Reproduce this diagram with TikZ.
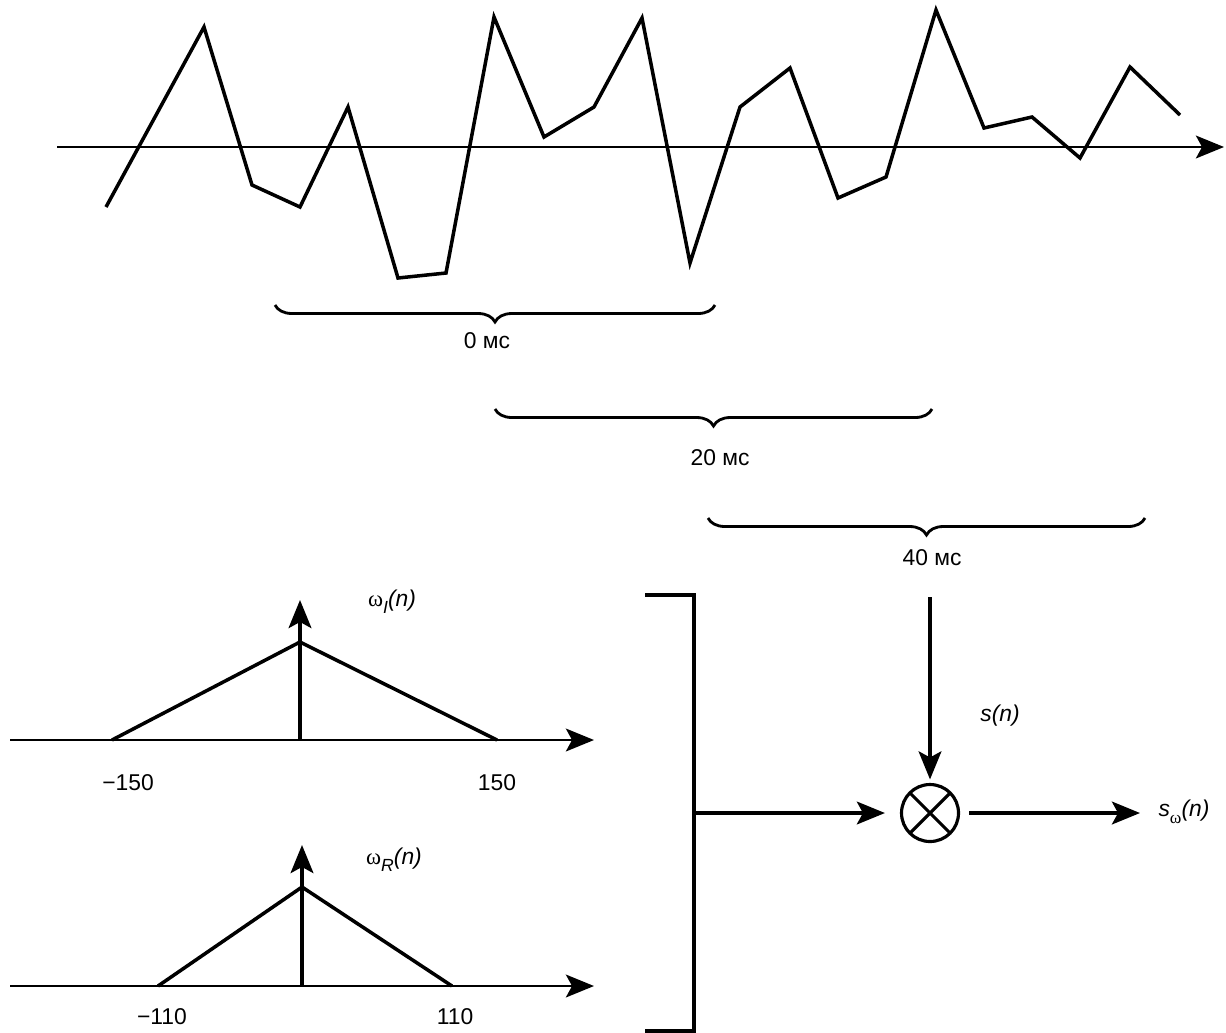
\documentclass[tikz,border=0pt]{standalone}
\usepackage{fontspec}
\setmainfont{Liberation Sans}
\newfontfamily\grk{Liberation Serif}
\usetikzlibrary{arrows.meta,decorations.pathreplacing,positioning}
\newcommand{\lowsub}[1]{\raisebox{-4pt}{\fontsize{10}{10}\selectfont #1}}
\tikzset{
    ax/.style={line width=1.4pt, -{Stealth[length=16pt, width=13pt, inset=3.5pt]}},
    wave/.style={line width=2pt, line join=miter},
    frame/.style={line width=1.8pt},
    brc/.style={line width=1.6pt, decorate, decoration={brace, mirror, amplitude=0.34cm}},
    lbl/.style={font=\fontsize{13}{15}\selectfont, inner sep=1pt},
    mult/.style={circle, draw, line width=1.8pt, minimum size=1.14cm,
        path picture={\draw[line width=1.8pt]
            (path picture bounding box.north west)--(path picture bounding box.south east)
            (path picture bounding box.north east)--(path picture bounding box.south west);}}
}
\begin{document}
\begin{tikzpicture}[x=0.02cm, y=-0.02cm]
\useasboundingbox (0,0) rectangle (1226,1032);
% signal
\begin{scope}
    \coordinate (a0) at (57,147);
    \coordinate (a1) at (1224,147);
    \draw[ax](a0)--(a1);
    \draw[wave]plot coordinates {(106,207) (204,27) (252,185) (300,207) (348,107) (398,278)
        (446,273) (494,17) (544,137) (594,107) (642,18) (690,263) (740,107) (790,68)
        (838,198) (886,177) (936,10) (984,128) (1032,117) (1080,158) (1130,67) (1180,115)};
\end{scope}
% frames
\begin{scope}
    \draw[brc](275,305)--(715,305);
    \node[lbl] (f0) at (487,341) {0 мс};
    \draw[brc](495,409)--(932,409);
    \node[lbl] (f20) at (720,458) {20 мс};
    \draw[brc](708,518)--(1145,518);
    \node[lbl] (f40) at (932,558) {40 мс};
\end{scope}
% windows
\begin{scope}
    \draw[ax](10,740)--(594,740);
    \draw[ax, line width=1.8pt](300,740)--(300,600);
    \draw[wave](112,740)--(300,642)--(497,740);
    \node[lbl] (wI) at (392,602) {{\grk ω}\lowsub{\textit{I}}\textit{(n)}};
    \node[lbl] (lI1) at (128,783) {−150};
    \node[lbl] (lI2) at (497,783) {150};
\end{scope}
\begin{scope}
    \draw[ax](10,986)--(594,986);
    \draw[ax, line width=1.8pt](302,986)--(302,845);
    \draw[wave](158,986)--(302,887)--(452,986);
    \node[lbl] (wR) at (394,860) {{\grk ω}\lowsub{\textit{R}}\textit{(n)}};
    \node[lbl] (lR1) at (162,1017) {−110};
    \node[lbl] (lR2) at (455,1017) {110};
\end{scope}
% product
\draw[frame](645,595)--(694,595)--(694,1031)--(645,1031);
\coordinate (br) at (694,813);
\coordinate (sin) at (930,597);
\coordinate (sout) at (1140,813);
\node[mult] (m) at (930,813) {};
\draw[ax, line width=1.8pt](br)--(m.west) [shorten >=0.3cm];
\draw[ax, line width=1.8pt, shorten >=2pt](sin)--(m.north);
\draw[ax, line width=1.8pt, shorten <=0.18cm](m.east)--(sout);
\node[lbl] (sn) at (1000,716) {\textit{s(n)}};
\node[lbl] (sw) at (1184,812) {\textit{s}\lowsub{\grk ω}\textit{(n)}};
\end{tikzpicture}
\end{document}
